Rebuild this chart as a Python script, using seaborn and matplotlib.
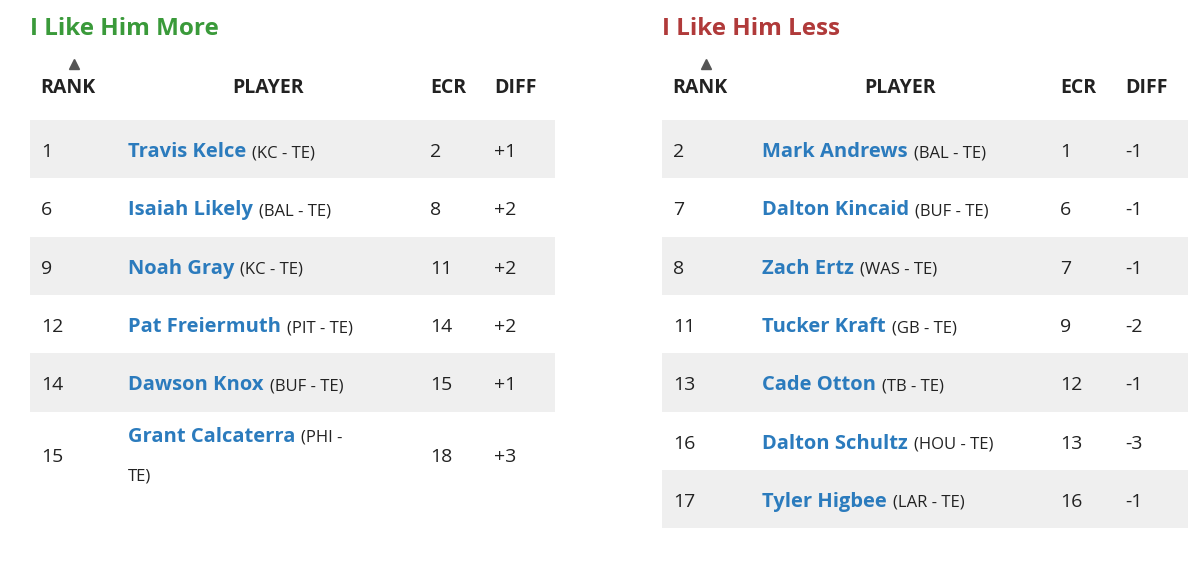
import matplotlib
matplotlib.use("Agg")
import matplotlib.pyplot as plt
import seaborn as sns

# --- data ---
more_rank = [1, 6, 9, 12, 14, 15]
more_name = ["Travis Kelce", "Isaiah Likely", "Noah Gray", "Pat Freiermuth", "Dawson Knox", "Grant Calcaterra"]
more_team = ["(KC - TE)", "(BAL - TE)", "(KC - TE)", "(PIT - TE)", "(BUF - TE)", "(PHI - TE)"]
more_ecr = [2, 8, 11, 14, 15, 18]
more_diff = ["+1", "+2", "+2", "+2", "+1", "+3"]

less_rank = [2, 7, 8, 11, 13, 16, 17]
less_name = ["Mark Andrews", "Dalton Kincaid", "Zach Ertz", "Tucker Kraft", "Cade Otton", "Dalton Schultz", "Tyler Higbee"]
less_team = ["(BAL - TE)", "(BUF - TE)", "(WAS - TE)", "(GB - TE)", "(TB - TE)", "(HOU - TE)", "(LAR - TE)"]
less_ecr = [1, 6, 7, 9, 12, 13, 16]
less_diff = ["-1", "-1", "-1", "-2", "-1", "-3", "-1"]

sns.set_theme(style="white")
plt.rcParams["font.family"] = ["Open Sans", "DejaVu Sans"]

W, H = 1194, 576
fig = plt.figure(figsize=(W / 100, H / 100), dpi=100)
ax = fig.add_axes([0, 0, 1, 1])
ax.set_xlim(0, W)
ax.set_ylim(H, 0)
ax.axis("off")
fig.canvas.draw()
renderer = fig.canvas.get_renderer()

BLUE = "#2b7bbd"
SHADE = "#efefef"
TXT = "#222222"


def table(x0, x1, cols, title, tcolor, ranks, names, teams, ecrs, diffs, wrap_last=False):
    ax.text(x0, 29, title, fontsize=17.5, fontweight="bold", color=tcolor, va="center")
    ax.plot([cols[0] + 33], [64], marker="^", color="#555555", markersize=7)
    hy = 88
    ax.text(cols[0] - 1, hy, "RANK", fontsize=14, fontweight="bold", color=TXT, va="center")
    ax.text(x0 + 238, hy, "PLAYER", fontsize=14, fontweight="bold", color=TXT,
            va="center", ha="center")
    ax.text(cols[2], hy, "ECR", fontsize=14, fontweight="bold", color=TXT, va="center")
    ax.text(cols[3], hy, "DIFF", fontsize=14, fontweight="bold", color=TXT, va="center")
    y = 120
    rh = 58.3
    for i in range(len(ranks)):
        tall = wrap_last and i == len(ranks) - 1
        h = rh * 1.7 if tall else rh
        if i % 2 == 0:
            ax.axhspan(y, y + h, xmin=x0 / W, xmax=x1 / W, color=SHADE, lw=0)
        cy = (y + rh / 2 if not tall else y + 42) + 3
        ax.text(cols[0], cy, str(ranks[i]), fontsize=14, color=TXT, va="center")
        ax.text(cols[2], cy, str(ecrs[i]), fontsize=14, color=TXT, va="center")
        ax.text(cols[3], cy, diffs[i], fontsize=14, color=TXT, va="center")
        ny = cy - 20 if tall else cy
        t = ax.text(cols[1], ny, names[i], fontsize=14.5, fontweight="bold", color=BLUE, va="center")
        bb = t.get_window_extent(renderer)
        team = teams[i]
        if tall:
            ax.text(cols[1] + bb.width + 6, ny + 1, team[:-3].rstrip(), fontsize=12, color=TXT, va="center")
            ax.text(cols[1], ny + 40, "TE)", fontsize=12, color=TXT, va="center")
        else:
            ax.text(cols[1] + bb.width + 6, ny + 1, team, fontsize=12, color=TXT, va="center")
        y += h


table(30, 555, [41, 128, 430, 494], "I Like Him More", "#3a9a3a",
      more_rank, more_name, more_team, more_ecr, more_diff, wrap_last=True)
table(662, 1188, [673, 762, 1060, 1125], "I Like Him Less", "#b03a3a",
      less_rank, less_name, less_team, less_ecr, less_diff)

fig.savefig("out.png", dpi=100)
